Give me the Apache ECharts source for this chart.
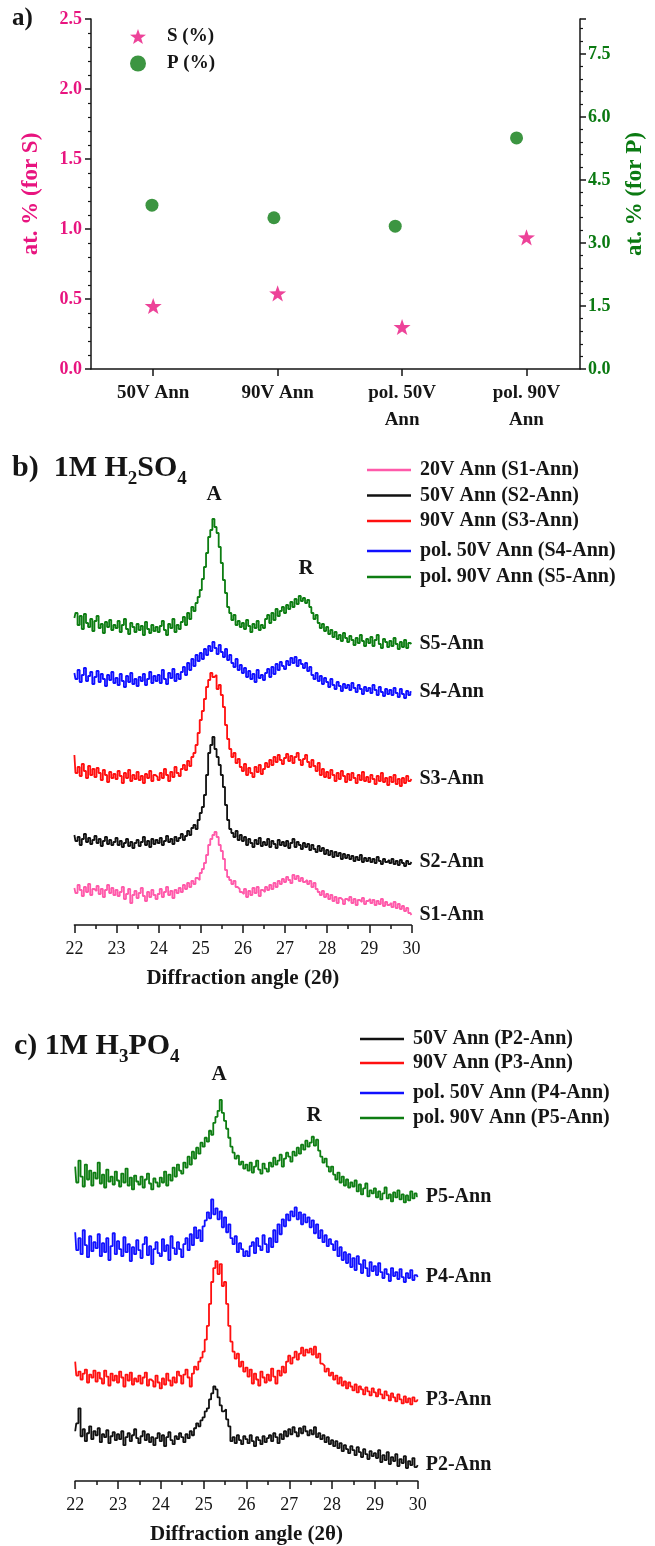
<!DOCTYPE html>
<html><head><meta charset="utf-8">
<script src="https://cdn.jsdelivr.net/npm/echarts@6/dist/echarts.min.js"></script>
<style>html,body{margin:0;padding:0;background:#fff}#c{width:655px;height:1546px}</style>
</head><body><div id="c"></div>
<script>
// ---------- Panel a data ----------
const categoriesA = ['50V Ann', '90V Ann', 'pol. 50V\nAnn', 'pol. 90V\nAnn'];
const sX = [1, 2, 3, 4];
const pX = [0.99, 1.97, 2.945, 3.92];
const sPercent = [0.45, 0.54, 0.30, 0.94];
const pPercent = [3.9, 3.6, 3.4, 5.5];

// ---------- XRD scans (2θ from 22 to 30, step 0.05; intensity a.u., offset) ----------
const angleStart = 22, angleStep = 0.05;
const s5 = [307,312,300,309,296,311,302,298,306,294, 304,309,297,301,292,303,298,305,295,300, 297,304,293,300,306,296,291,302,298,293, 301,295,299,290,303,296,292,300,294,298, 293,299,304,295,290,301,297,306,293,300, 296,303,308,300,312,306,318,314,322,328, 335,346,358,372,388,395,406,398,392,378, 362,345,332,318,312,305,310,300,304,298, 302,296,305,299,293,301,297,304,295,300, 297,306,310,302,312,305,316,309,314,318, 312,320,316,323,318,326,321,329,324,327, 322,325,318,312,306,310,302,297,301,294, 298,291,295,288,293,286,290,284,292,287, 283,289,285,280,287,282,290,284,279,286, 282,288,279,285,290,281,277,286,283,278, 284,279,287,281,276,283,278,285,277,282, 281];
const s4 = [252,246,255,243,250,257,244,249,253,241, 248,254,243,251,246,239,250,245,253,242, 247,240,251,244,238,249,243,252,241,246, 239,248,244,251,240,246,253,242,249,244, 250,242,255,246,241,252,247,256,244,251, 246,253,258,250,262,255,266,259,270,264, 272,266,276,270,279,274,283,277,271,280, 273,268,276,265,270,262,258,266,255,260, 252,257,248,254,246,251,243,255,247,250, 245,252,256,248,258,251,261,255,263,259, 256,264,260,267,262,268,259,265,261,257, 262,254,258,250,246,252,244,249,241,247, 243,238,246,240,236,243,239,234,241,237, 240,235,242,237,233,240,236,231,238,234, 237,232,240,235,230,238,233,229,236,231, 235,230,237,232,228,236,231,227,234,230, 233];
const s3 = [170,152,158,149,161,154,147,159,150,156, 148,157,152,145,155,150,143,153,147,151, 146,154,149,142,152,147,155,144,150,146, 153,145,149,142,151,147,154,144,150,148, 145,152,147,156,150,144,153,148,158,152, 149,156,160,155,164,159,168,172,180,192, 205,214,226,238,245,252,248,250,236,240, 230,218,200,186,176,168,172,162,166,158, 154,161,150,157,152,148,158,153,160,151, 156,162,158,165,160,168,163,170,165,161, 167,171,164,169,162,168,172,165,160,166, 170,163,158,165,159,154,162,150,156,148, 153,147,155,150,144,152,146,154,149,143, 151,145,152,147,142,150,145,153,144,148, 143,150,146,141,149,144,152,143,147,140, 148,143,150,141,146,139,147,142,149,144, 146];
const s2 = [90,84,88,80,86,91,83,87,81,85, 89,82,86,79,84,88,81,85,80,83, 87,80,84,78,82,86,79,83,77,82, 85,79,83,88,80,84,78,86,81,85, 82,87,80,84,89,83,86,81,88,84, 87,91,85,89,94,90,97,100,96,105, 112,118,130,150,172,180,188,176,168,160, 150,138,120,105,96,92,88,94,85,90, 84,88,80,86,82,78,85,81,87,79, 83,80,86,78,84,81,77,85,80,83, 79,84,77,82,86,78,83,80,76,82, 78,81,75,80,76,73,79,74,77,71, 75,70,74,68,73,69,72,66,71,67, 70,66,69,64,68,65,70,63,67,64, 67,63,66,62,68,64,61,66,63,65, 62,66,61,64,60,65,62,59,64,61, 63];
const s1 = [37,32,40,35,29,38,33,41,30,36, 34,39,31,36,28,35,40,32,37,30, 35,29,33,38,26,31,36,22,30,34, 27,32,37,29,24,33,28,35,30,26, 31,36,28,33,38,30,34,27,35,32, 37,33,40,36,42,38,44,41,47,45, 52,56,62,70,80,86,90,93,88,80, 74,66,55,48,45,41,44,38,36,33, 31,36,28,34,30,37,32,38,29,35, 33,38,35,40,36,42,38,44,41,46, 43,48,45,42,50,46,49,44,47,43, 45,41,44,38,42,36,33,30,34,28, 31,26,30,24,28,22,27,25,21,26, 24,28,22,26,20,25,23,27,21,24, 26,22,25,20,24,21,26,19,23,20, 22,18,23,17,21,16,19,14,17,12, 10];

const p5 = [316,300,322,306,296,318,303,312,297,310, 304,320,299,308,295,313,301,306,298,311, 302,296,309,300,314,297,305,293,307,301, 298,306,295,303,309,299,293,304,300,296, 305,300,311,297,308,302,315,306,318,312, 309,320,315,326,318,331,324,335,329,340, 336,345,341,352,348,360,366,372,383,370, 362,354,345,336,330,324,327,318,321,314, 318,312,320,310,316,322,313,309,319,314, 311,320,316,325,318,322,328,316,324,330, 326,321,331,327,335,329,338,333,342,336, 340,346,337,343,332,326,320,324,316,311, 316,308,303,310,300,306,297,303,295,300, 296,302,291,298,288,294,299,286,292,289, 294,285,291,283,289,295,284,288,281,290, 285,292,283,288,280,287,282,291,284,289, 286];
const p4 = [250,232,244,228,252,237,225,246,231,240, 234,248,226,239,230,244,222,236,249,228, 241,233,226,245,230,238,221,235,228,242, 232,224,238,245,227,236,218,233,240,229, 226,243,231,237,222,246,234,228,240,233, 225,238,244,232,248,237,255,244,252,241, 256,262,270,264,283,268,274,263,271,255, 265,250,258,244,238,246,230,239,233,226, 231,226,236,240,229,244,236,232,247,238, 230,244,235,252,240,258,248,263,256,268, 262,271,266,275,263,270,258,268,260,265, 255,262,249,258,244,252,240,247,236,243, 238,232,241,226,235,222,230,219,228,215, 224,212,226,218,209,222,214,206,220,211, 216,207,219,210,204,213,208,201,214,206, 210,203,213,205,200,209,204,212,202,207, 205];
const p3 = [120,106,110,102,108,112,99,107,104,111, 100,109,103,98,111,105,96,108,101,106, 99,110,104,95,107,101,109,97,103,100, 106,98,104,109,96,102,100,95,106,99, 93,103,97,108,101,96,104,99,110,106, 98,107,112,104,95,108,115,112,120,124, 130,142,156,178,200,214,221,208,218,196, 200,178,156,140,130,123,128,115,120,110, 114,105,112,98,108,102,96,110,104,99, 107,101,113,105,98,111,106,115,109,120, 126,118,124,130,122,128,134,126,132,129, 133,127,135,124,128,118,116,110,113,106, 109,102,106,98,104,96,100,93,99,95, 91,97,89,95,92,87,94,90,86,93, 89,85,92,87,83,90,86,81,88,84, 80,87,82,78,85,79,83,77,84,80, 82];
const p2 = [50,58,73,45,52,40,48,55,42,50, 46,53,39,47,44,51,38,45,49,41, 47,42,50,36,44,48,40,46,52,43, 38,45,50,41,47,39,44,36,43,48, 40,46,35,44,49,41,37,45,42,48, 44,39,47,43,50,46,53,58,55,61, 64,70,73,82,88,95,92,84,76,70, 72,62,55,40,44,38,46,41,37,45, 42,38,46,40,35,44,41,37,45,39, 43,46,40,48,44,38,47,42,50,45, 52,47,54,49,45,53,48,55,50,46, 51,47,54,44,48,42,46,39,44,37, 41,35,40,33,38,30,36,32,28,35, 31,26,34,29,24,32,27,22,30,25, 28,23,31,19,26,21,29,17,24,20, 27,15,22,18,25,13,20,16,23,14, 16];

const namesB = ['20V Ann (S1-Ann)', '50V Ann (S2-Ann)', '90V Ann (S3-Ann)', 'pol. 50V Ann (S4-Ann)', 'pol. 90V Ann (S5-Ann)'];
const tagsB = ['S1-Ann', 'S2-Ann', 'S3-Ann', 'S4-Ann', 'S5-Ann'];
const namesC = ['50V Ann (P2-Ann)', '90V Ann (P3-Ann)', 'pol. 50V Ann (P4-Ann)', 'pol. 90V Ann (P5-Ann)'];
const tagsC = ['P2-Ann', 'P3-Ann', 'P4-Ann', 'P5-Ann'];

// ---------- styling ----------
const FONT = '"Liberation Serif", "Times New Roman", serif';
const MAG = '#e8147f';
const GRN = '#0b7a12';
const INK = '#151515';
const colorsB = ['#ff5aaa', '#111111', '#ff1010', '#1010ff', '#0d7d12'];
const colorsC = ['#111111', '#ff1010', '#1010ff', '#0d7d12'];
const STAR = 'path://M50 0 L61.76 33.82 L97.55 34.55 L69.02 56.18 L79.39 90.45 L50 70 L20.61 90.45 L30.98 56.18 L2.45 34.55 L38.24 33.82 Z';

function scan(vals) { return vals.map((v, i) => [angleStart + i * angleStep, v]); }

function xrdSeries(name, tag, vals, color, xi, yi) {
  return {
    type: 'line', name, xAxisIndex: xi, yAxisIndex: yi, data: scan(vals),
    step: 'middle', showSymbol: false, color,
    lineStyle: { color, width: 1.8 },
    endLabel: { show: true, formatter: tag, distance: 8, fontFamily: FONT, fontWeight: 'bold', fontSize: 20, color: INK },
    silent: true
  };
}

const xrdAxis = (gi) => ({
  gridIndex: gi, type: 'value', min: 22, max: 30, interval: 1,
  axisLine: { lineStyle: { color: INK, width: 1.5 } },
  axisTick: { inside: false, length: 8, lineStyle: { color: INK, width: 1.5 } },
  minorTick: { show: true, splitNumber: 2, length: 4, lineStyle: { color: INK, width: 1.5 } },
  splitLine: { show: false },
  axisLabel: { fontFamily: FONT, fontSize: 18, color: INK, margin: 15 },
  name: 'Diffraction angle (2θ)', nameLocation: 'middle', nameGap: 43,
  nameTextStyle: { fontFamily: FONT, fontWeight: 'bold', fontSize: 21, color: INK }
});

const legendText = { fontFamily: FONT, fontWeight: 'bold', fontSize: 20, color: INK, padding: [0, 0, 0, 4] };
const lineLegend = (data, left, top, gap) => ({
  data, left, top, padding: 0, orient: 'vertical', icon: 'rect', itemWidth: 44, itemHeight: 2.5, itemGap: gap,
  textStyle: legendText, selectedMode: false
});

const titleRich = {
  m: { fontFamily: FONT, fontWeight: 'bold', fontSize: 30, color: INK, verticalAlign: 'bottom', padding: [0, 0, 6, 0] },
  s: { fontFamily: FONT, fontWeight: 'bold', fontSize: 19, color: INK, verticalAlign: 'bottom' }
};

const chart = echarts.init(document.getElementById('c'), null, { renderer: 'canvas' });
const option = {
  animation: false,
  backgroundColor: '#ffffff',
  title: [
    { text: 'a)', left: 12, top: 6, padding: 0, textStyle: { fontFamily: FONT, fontWeight: 'bold', fontSize: 25, color: INK } },
    { text: '{m|b)  1M H}{s|2}{m|SO}{s|4}', left: 12, top: 453, padding: 0, textStyle: { rich: titleRich } },
    { text: '{m|c) 1M H}{s|3}{m|PO}{s|4}', left: 14, top: 1031, padding: 0, textStyle: { rich: titleRich } }
  ],
  grid: [
    { left: 91, top: 19, width: 498, height: 350 },
    { left: 74.4, top: 500, width: 337, height: 425 },
    { left: 75.2, top: 1083, width: 342.5, height: 400 }
  ],
  legend: [
    { data: ['S (%)', 'P (%)'], left: 130, top: 27, padding: 0, orient: 'vertical', itemGap: 8, itemWidth: 16, itemHeight: 16,
      textStyle: { fontFamily: FONT, fontWeight: 'bold', fontSize: 19, color: INK, padding: [0, 0, 0, 16] }, selectedMode: false },
    lineLegend(namesB.slice(0, 3), 367, 460, 5.5),
    lineLegend(namesB.slice(3), 367, 541, 6),
    lineLegend(namesC.slice(0, 2), 360, 1029, 4),
    lineLegend(namesC.slice(2), 360, 1083, 5)
  ],
  xAxis: [
    {
      gridIndex: 0, type: 'value', min: 0.5, max: 4.43,
      axisLine: { lineStyle: { color: INK, width: 1.5 } },
      axisTick: { customValues: sX, length: 7, lineStyle: { color: INK, width: 1.5 } },
      splitLine: { show: false },
      axisLabel: { customValues: sX, formatter: (v) => categoriesA[Math.round(v) - 1] || '', fontFamily: FONT, fontWeight: 'bold',
        fontSize: 19, color: INK, margin: 11, lineHeight: 27 }
    },
    xrdAxis(1),
    xrdAxis(2)
  ],
  yAxis: [
    {
      gridIndex: 0, type: 'value', min: 0, max: 2.5, interval: 0.5, position: 'left',
      axisLine: { show: true, lineStyle: { color: INK, width: 1.5 } },
      axisTick: { show: true, inside: false, length: 6, lineStyle: { color: INK, width: 1.5 } },
      minorTick: { show: true, splitNumber: 5, length: 3, lineStyle: { color: INK, width: 1.2 } },
      splitLine: { show: false },
      axisLabel: { formatter: (v) => v.toFixed(1), fontFamily: FONT, fontWeight: 'bold', fontSize: 18, color: MAG, margin: 9 },
      name: 'at. % (for S)', nameLocation: 'middle', nameGap: 48, nameRotate: 90,
      nameTextStyle: { fontFamily: FONT, fontWeight: 'bold', fontSize: 23, color: MAG }
    },
    {
      gridIndex: 0, type: 'value', min: 0, max: 8.33, interval: 1.5, position: 'right',
      axisLine: { show: true, lineStyle: { color: INK, width: 1.5 } },
      axisTick: { show: true, inside: false, length: 6, lineStyle: { color: INK, width: 1.5 } },
      minorTick: { show: true, splitNumber: 5, length: 3, lineStyle: { color: INK, width: 1.2 } },
      splitLine: { show: false },
      axisLabel: { formatter: (v) => v.toFixed(1), showMaxLabel: false, fontFamily: FONT, fontWeight: 'bold', fontSize: 18, color: GRN, margin: 8 },
      name: 'at. % (for P)', nameLocation: 'middle', nameGap: 44, nameRotate: 90,
      nameTextStyle: { fontFamily: FONT, fontWeight: 'bold', fontSize: 23, color: GRN }
    },
    { gridIndex: 1, type: 'value', min: 0, max: 425, show: false },
    { gridIndex: 2, type: 'value', min: 0, max: 400, show: false }
  ],
  graphic: [
    { type: 'text', style: { text: 'A', x: 214, y: 495, align: 'center', verticalAlign: 'middle', font: 'bold 21px ' + FONT, fill: INK } },
    { type: 'text', style: { text: 'R', x: 306, y: 569, align: 'center', verticalAlign: 'middle', font: 'bold 21px ' + FONT, fill: INK } },
    { type: 'text', style: { text: 'A', x: 219, y: 1075, align: 'center', verticalAlign: 'middle', font: 'bold 21px ' + FONT, fill: INK } },
    { type: 'text', style: { text: 'R', x: 314, y: 1116, align: 'center', verticalAlign: 'middle', font: 'bold 21px ' + FONT, fill: INK } }
  ],
  series: [
    { type: 'scatter', name: 'S (%)', xAxisIndex: 0, yAxisIndex: 0, symbol: STAR, symbolSize: 17, symbolKeepAspect: true,
      itemStyle: { color: MAG }, data: sX.map((x, i) => [x, sPercent[i]]) },
    { type: 'scatter', name: 'P (%)', xAxisIndex: 0, yAxisIndex: 1, symbol: 'circle', symbolSize: 13,
      itemStyle: { color: GRN }, data: pX.map((x, i) => [x, pPercent[i]]) },
    xrdSeries(namesB[0], tagsB[0], s1, colorsB[0], 1, 2),
    xrdSeries(namesB[1], tagsB[1], s2, colorsB[1], 1, 2),
    xrdSeries(namesB[2], tagsB[2], s3, colorsB[2], 1, 2),
    xrdSeries(namesB[3], tagsB[3], s4, colorsB[3], 1, 2),
    xrdSeries(namesB[4], tagsB[4], s5, colorsB[4], 1, 2),
    xrdSeries(namesC[0], tagsC[0], p2, colorsC[0], 2, 3),
    xrdSeries(namesC[1], tagsC[1], p3, colorsC[1], 2, 3),
    xrdSeries(namesC[2], tagsC[2], p4, colorsC[2], 2, 3),
    xrdSeries(namesC[3], tagsC[3], p5, colorsC[3], 2, 3)
  ]
};
chart.setOption(option);
</script></body></html>
